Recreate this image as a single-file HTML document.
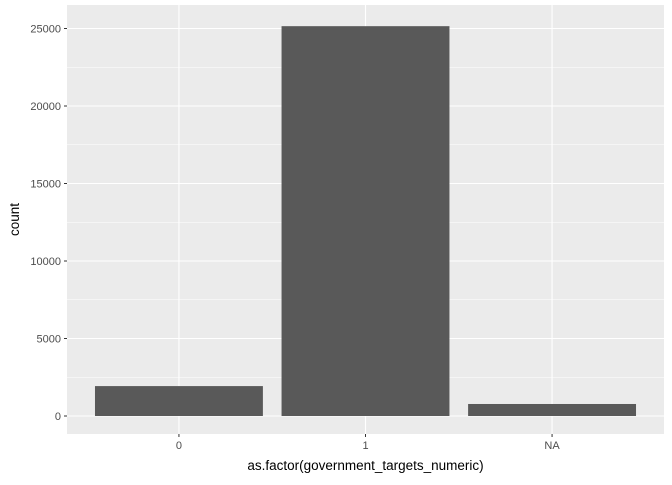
<!DOCTYPE html>
<html><head><meta charset="utf-8"><style>
body{margin:0;background:#fff;}
svg text{font-family:"Liberation Sans",Arial,sans-serif;}
</style></head><body>
<svg id="chart" width="672" height="480" xmlns="http://www.w3.org/2000/svg">
<rect x="0" y="0" width="672" height="480" fill="#ffffff"/>
<g id="panel"></g>
</svg>
<script>
const categories = ["0", "1", "NA"];
const counts = [1930, 25150, 775];
const yTicks = [0, 5000, 10000, 15000, 20000, 25000];
const yMinor = [2500, 7500, 12500, 17500, 22500];

const NS = "http://www.w3.org/2000/svg";
const svg = document.getElementById('chart');
const L = 67, R = 664, T = 5, B = 434;
const step = (R - L) / (categories.length - 1 + 1.2);
const x = i => L + (0.6 + i) * step;
const y0 = 416, k = 0.0155;
const y = v => y0 - v * k;

function mk(tag, attrs, parent) {
  const e = document.createElementNS(NS, tag);
  for (const a in attrs) e.setAttribute(a, attrs[a]);
  (parent || svg).appendChild(e);
  return e;
}
const panel = mk('rect', {x: L, y: T, width: R - L, height: B - T, fill: '#ebebeb'});



yMinor.forEach(v => {
  const g = mk('line', {x1: L, x2: R, y1: y(v), y2: y(v), stroke: '#ffffff', 'stroke-width': 0.55});
  
  
});
yTicks.forEach(v => {
  const g = mk('line', {x1: L, x2: R, y1: y(v), y2: y(v), stroke: '#ffffff', 'stroke-width': 1.1});
  
  
  const t = mk('line', {x1: L - 3, x2: L, y1: y(v), y2: y(v), stroke: '#333', 'stroke-width': 1});
  
  
  const l = mk('text', {x: L - 6, y: y(v) + 4, 'text-anchor': 'end', 'font-size': 11, fill: '#4d4d4d'});
  l.textContent = v;
  
  
});
categories.forEach((c, i) => {
  const g = mk('line', {x1: x(i), x2: x(i), y1: T, y2: B, stroke: '#ffffff', 'stroke-width': 1.1});
  
  
});
categories.forEach((c, i) => {
  const w = 0.9 * step;
  const b = mk('rect', {x: x(i) - w / 2, y: y(counts[i]), width: w, height: y(0) - y(counts[i]), fill: '#595959'});
  
  
  const t = mk('line', {x1: x(i), x2: x(i), y1: B, y2: B + 3, stroke: '#333', 'stroke-width': 1});
  
  
  const l = mk('text', {x: x(i), y: B + 15, 'text-anchor': 'middle', 'font-size': 11, fill: '#4d4d4d'});
  l.textContent = c;
  
  
});
const xt = mk('text', {x: (L + R) / 2, y: 470, 'text-anchor': 'middle', 'font-size': 13.5, fill: '#000'});
xt.textContent = 'as.factor(government_targets_numeric)';


const yt = mk('text', {x: 0, y: 0, 'text-anchor': 'middle', 'font-size': 13.5, fill: '#000', transform: 'translate(19,' + (T + B) / 2 + ') rotate(-90)'});
yt.textContent = 'count';


</script>
</body></html>
